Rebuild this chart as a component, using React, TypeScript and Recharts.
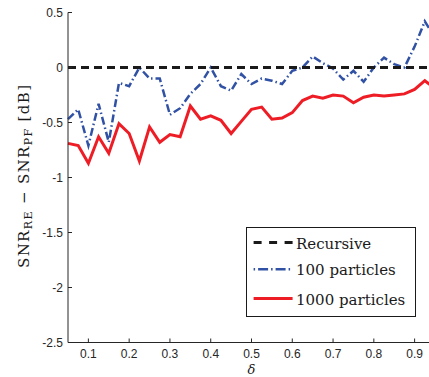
import React from 'react';
import { LineChart, Line, XAxis, YAxis, Legend, Label } from 'recharts';

// delta (x) values
const deltaValues = [
  0.05, 0.075, 0.1, 0.125, 0.15, 0.175, 0.2, 0.225, 0.25, 0.275,
  0.3, 0.325, 0.35, 0.375, 0.4, 0.425, 0.45, 0.475, 0.5, 0.525,
  0.55, 0.575, 0.6, 0.625, 0.65, 0.675, 0.7, 0.725, 0.75, 0.775,
  0.8, 0.825, 0.85, 0.875, 0.9, 0.925, 0.95,
];

// Recursive
const recursive = [
  0, 0, 0, 0, 0, 0, 0, 0, 0, 0,
  0, 0, 0, 0, 0, 0, 0, 0, 0, 0,
  0, 0, 0, 0, 0, 0, 0, 0, 0, 0,
  0, 0, 0, 0, 0, 0, 0,
];

// 100 particles
const particles100 = [
  -0.47, -0.38, -0.71, -0.33, -0.68, -0.14, -0.17, 0.0, -0.1, -0.1,
  -0.43, -0.37, -0.24, -0.15, 0.0, -0.17, -0.21, -0.06, -0.15, -0.1,
  -0.12, -0.15, -0.03, 0.0, 0.1, 0.04, -0.01, -0.11, -0.03, -0.13,
  0.0, 0.09, 0.03, 0.0, 0.19, 0.42, 0.27,
];

// 1000 particles
const particles1000 = [
  -0.69, -0.71, -0.87, -0.63, -0.78, -0.51, -0.6, -0.85, -0.54, -0.68,
  -0.61, -0.63, -0.35, -0.47, -0.44, -0.48, -0.6, -0.49, -0.38, -0.36,
  -0.47, -0.46, -0.41, -0.3, -0.26, -0.28, -0.25, -0.26, -0.32, -0.27,
  -0.25, -0.26, -0.25, -0.24, -0.2, -0.12, -0.19,
];

const xTicks = [0.1, 0.2, 0.3, 0.4, 0.5, 0.6, 0.7, 0.8, 0.9];
const yTicks = [0.5, 0, -0.5, -1, -1.5, -2, -2.5];

const seriesNames = ['Recursive', '100 particles', '1000 particles'];

const data = deltaValues.map((d, i) => ({
  delta: d,
  recursive: recursive[i],
  p100: particles100[i],
  p1000: particles1000[i],
}));

const AXIS = '#262626';
const RED = '#ee1d25';
const BLUE = '#3152a4';
const BLACK = '#1a1a1a';
const SERIF = '"DejaVu Serif", "Liberation Serif", serif';
const SANS = '"Liberation Sans", Arial, sans-serif';

const XTick = (props: any) => {
  const { x, y, payload } = props;
  return (
    <g>
      <line x1={x} y1={y} x2={x} y2={y - 4} stroke={AXIS} strokeWidth={1} />
      <text x={x} y={y + 15} textAnchor="middle" fontFamily={SANS} fontSize={12} fill={AXIS}>
        {String(payload.value)}
      </text>
    </g>
  );
};

const YTick = (props: any) => {
  const { x, y, payload } = props;
  return (
    <g>
      <line x1={x} y1={y} x2={x + 4} y2={y} stroke={AXIS} strokeWidth={1} />
      <text x={x - 5} y={y + 4} textAnchor="end" fontFamily={SANS} fontSize={12} fill={AXIS}>
        {String(payload.value)}
      </text>
    </g>
  );
};

const YLabel = () => (
  <text
    x={28.5}
    y={176.5}
    transform="rotate(-90 28.5 176.5)"
    textAnchor="middle"
    fontFamily={SERIF}
    fontSize={15}
    fill={BLACK}
    textLength={183}
    lengthAdjust="spacing"
  >
    <tspan>SNR</tspan>
    <tspan fontSize={11} dy={3}>RE</tspan>
    <tspan dy={-3}>{' \u2212 SNR'}</tspan>
    <tspan fontSize={11} dy={3}>PF</tspan>
    <tspan dy={-3}>{' [dB]'}</tspan>
  </text>
);

const XLabel = () => (
  <text x={251.5} y={373.5} textAnchor="middle" fontFamily={SERIF} fontStyle="italic" fontSize={13} fill={BLACK}>
    δ
  </text>
);

const LegendBox = () => {
  const rows = [
    { y: 15.6, color: BLACK, dash: '8 7.5', width: 3 },
    { y: 42.3, color: BLUE, dash: '1.5 3 10 3', width: 2.5 },
    { y: 71.6, color: RED, dash: undefined, width: 3 },
  ];
  return (
    <svg width={170} height={90} style={{ display: 'block' }}>
      <rect x={0.5} y={0.5} width={169} height={89} fill="#ffffff" stroke={BLACK} strokeWidth={1} />
      {rows.map((r, i) => (
        <g key={i}>
          <line x1={7.6} y1={r.y} x2={46.6} y2={r.y} stroke={r.color} strokeWidth={r.width} strokeDasharray={r.dash} />
          <text x={50} y={r.y + 6} fontFamily={SERIF} fontSize={15} fill={BLACK}>
            {seriesNames[i]}
          </text>
        </g>
      ))}
    </svg>
  );
};

export default function App() {
  return (
    <div style={{ position: 'absolute', left: 0, top: 0, width: 429, height: 377, overflow: 'hidden', background: '#ffffff' }}>
      <LineChart width={446} height={377} data={data} margin={{ top: 12.5, right: 11, left: 8, bottom: 0 }}>
        <XAxis
          dataKey="delta"
          type="number"
          domain={[0.05, 0.95]}
          ticks={xTicks}
          interval={0}
          height={34.5}
          tickSize={0}
          tickMargin={0}
          tickLine={false}
          axisLine={{ stroke: AXIS, strokeWidth: 1 }}
          tick={<XTick />}
        >
          <Label content={<XLabel />} />
        </XAxis>
        <YAxis
          type="number"
          domain={[-2.5, 0.5]}
          ticks={yTicks}
          interval={0}
          width={60}
          tickSize={0}
          tickMargin={0}
          tickLine={false}
          axisLine={{ stroke: AXIS, strokeWidth: 1 }}
          tick={<YTick />}
        >
          <Label content={<YLabel />} />
        </YAxis>
        <Legend
          layout="horizontal"
          verticalAlign="middle"
          align="center"
          content={<LegendBox />}
          wrapperStyle={{ position: 'absolute', left: 246, top: 227, width: 170, height: 90 }}
        />
        <Line
          type="linear"
          dataKey="p100"
          name={seriesNames[1]}
          stroke={BLUE}
          strokeWidth={2.5}
          strokeDasharray="8 3 1.5 3"
          dot={false}
          activeDot={false}
          isAnimationActive={false}
        />
        <Line
          type="linear"
          dataKey="p1000"
          name={seriesNames[2]}
          stroke={RED}
          strokeWidth={3}
          dot={false}
          activeDot={false}
          isAnimationActive={false}
        />
        <Line
          type="linear"
          dataKey="recursive"
          name={seriesNames[0]}
          stroke={BLACK}
          strokeWidth={3}
          strokeDasharray="8 5"
          dot={false}
          activeDot={false}
          isAnimationActive={false}
        />
      </LineChart>
    </div>
  );
}
